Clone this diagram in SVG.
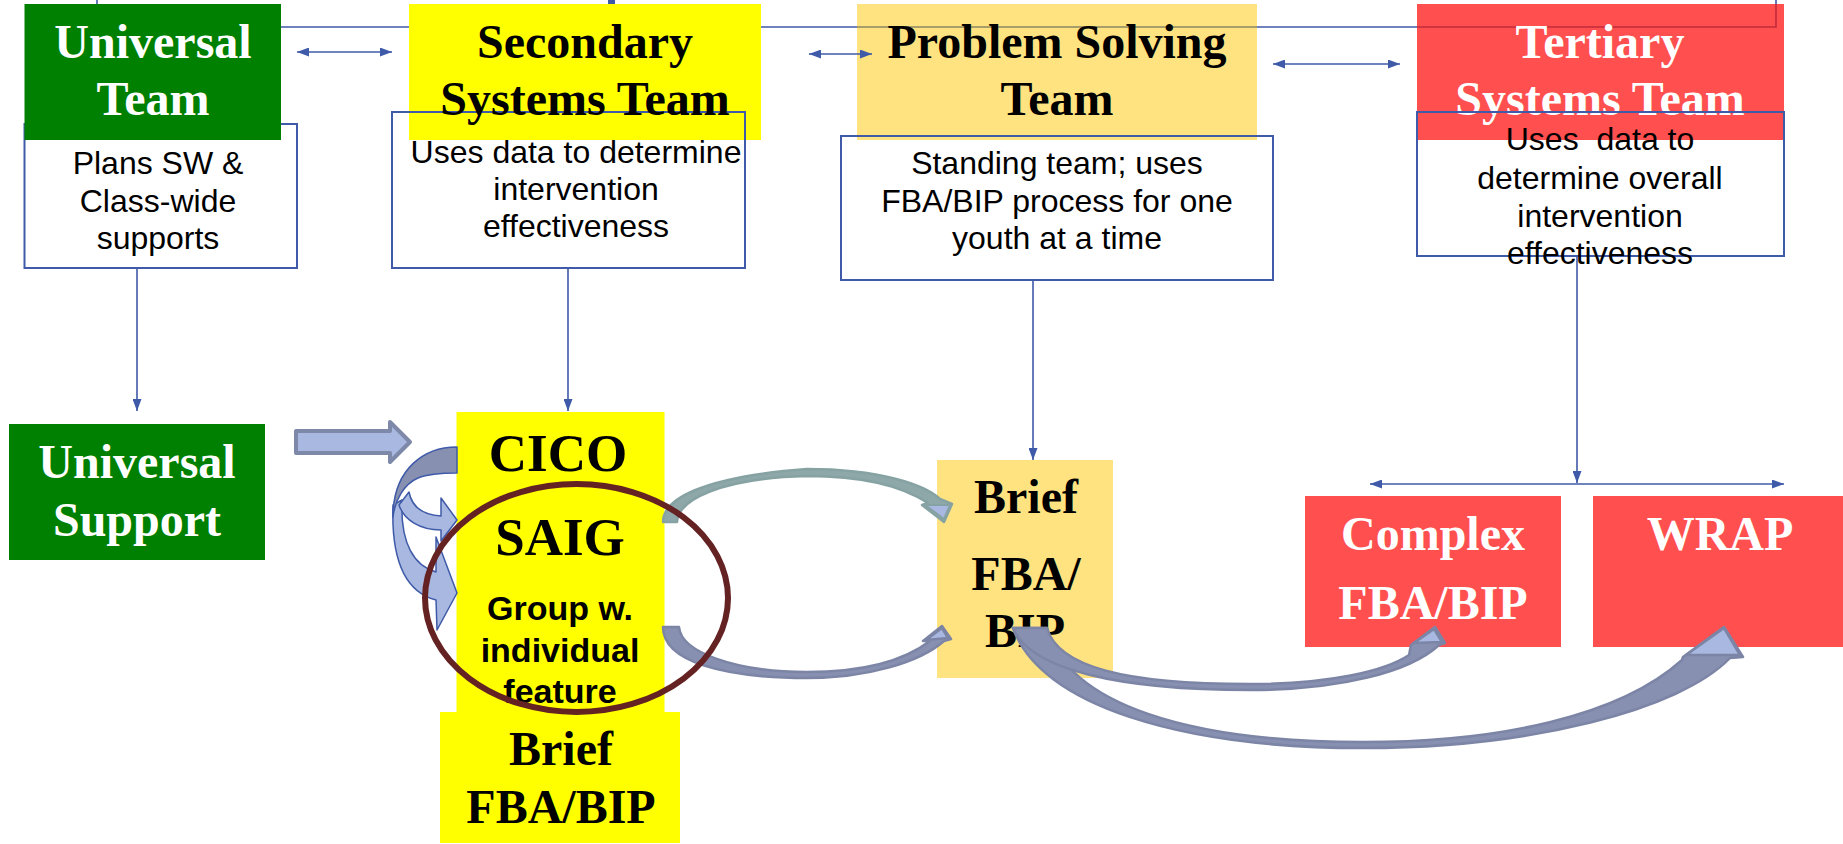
<svg xmlns="http://www.w3.org/2000/svg" width="1843" height="844" viewBox="0 0 1843 844">
<defs>
<style>
.title{font-family:"Liberation Serif","Times New Roman",serif;font-weight:bold;font-size:48px;text-anchor:middle}
.big{font-size:53px}
.desc{font-family:"Liberation Sans",Arial,sans-serif;font-size:32px;text-anchor:middle;fill:#000;white-space:pre}
.grp{font-family:"Liberation Sans",Arial,sans-serif;font-weight:bold;font-size:34px;text-anchor:middle;fill:#000}
.w{fill:#fff}
.k{fill:#000}
.dbox{fill:none;stroke:#3F5AA8;stroke-width:2}
.ln{fill:none;stroke:#3F5AA8;stroke-width:1.6}
.band{stroke:#7C85A5;stroke-width:2.5;stroke-linejoin:round;fill:#8890B2}
.teal{stroke:#86A2A3;stroke-width:2.5;stroke-linejoin:round;fill:#8EA8A9}
.head{fill:#A9B8E0;stroke:#7C85A5;stroke-width:2.5;stroke-linejoin:round}
.curl{stroke:#3F5AA8;stroke-width:1.5;stroke-linejoin:round}
</style>
<marker id="ah" viewBox="0 0 12 9" refX="12" refY="4.5" markerWidth="12" markerHeight="9" markerUnits="userSpaceOnUse" orient="auto-start-reverse">
<path d="M0,0 L12,4.5 L0,9 z" fill="#3F5AA8"/>
</marker>
</defs>
<rect width="1843" height="844" fill="#fff"/>

<g id="connectors-back">
<path class="ln" d="M97,0 V27 H1776 V0"/>
<rect x="608" y="0" width="7" height="5" fill="#3F5AA8"/>
</g>

<g id="universal-team">
<rect x="24.5" y="124" width="272.5" height="144" fill="#fff" stroke="#3F5AA8" stroke-width="2"/>
<text class="desc" x="158" y="174">Plans SW &amp;</text>
<text class="desc" x="158" y="211.5">Class-wide</text>
<text class="desc" x="158" y="249">supports</text>
<rect x="24.5" y="4" width="256.5" height="136" fill="#008000"/>
<text class="title w" x="153" y="58">Universal</text>
<text class="title w" x="153" y="115">Team</text>
</g>

<g id="secondary-team">
<rect x="409" y="4" width="352" height="136" fill="#FFFF00"/>
<rect class="dbox" x="392" y="112" width="353" height="156"/>
<text class="title k" x="585" y="58">Secondary</text>
<text class="title k" x="585" y="115">Systems Team</text>
<text class="desc" x="576" y="163">Uses data to determine</text>
<text class="desc" x="576" y="200">intervention</text>
<text class="desc" x="576" y="237">effectiveness</text>
</g>

<g id="problem-solving-team">
<rect x="857" y="4" width="400" height="136" fill="#FFE380"/>
<line x1="857" y1="27" x2="1257" y2="27" stroke="#8C8762" stroke-width="1.6"/>
<rect class="dbox" x="841" y="136" width="432" height="144"/>
<text class="title k" x="1057" y="58">Problem Solving</text>
<text class="title k" x="1057" y="115">Team</text>
<text class="desc" x="1057" y="174">Standing team; uses</text>
<text class="desc" x="1057" y="212">FBA/BIP process for one</text>
<text class="desc" x="1057" y="249">youth at a time</text>
</g>

<g id="tertiary-team">
<rect x="1417" y="4" width="367" height="136" fill="#FF4F4F"/>
<path d="M1417,27 H1776 V4" fill="none" stroke="#C22B3B" stroke-width="1.6"/>
<text class="title w" x="1600" y="58">Tertiary</text>
<text class="title w" x="1600" y="115">Systems Team</text>
<rect class="dbox" x="1417" y="112" width="367" height="144"/>
<text class="desc" x="1600" y="150">Uses  data to</text>
<text class="desc" x="1600" y="188.5">determine overall</text>
<text class="desc" x="1600" y="226.5">intervention</text>
<text class="desc" x="1600" y="264">effectiveness</text>
</g>

<g id="universal-support">
<rect x="9" y="424" width="256" height="136" fill="#008000"/>
<text class="title w" x="137" y="478">Universal</text>
<text class="title w" x="137" y="536">Support</text>
</g>

<g id="secondary-supports">
<rect x="456.5" y="412" width="208" height="300" fill="#FFFF00"/>
<text class="title big k" x="558" y="471">CICO</text>
<text class="title big k" x="560" y="555">SAIG</text>
<text class="grp" x="560" y="620">Group w.</text>
<text class="grp" x="560" y="662">individual</text>
<text class="grp" x="560" y="703">feature</text>
</g>

<g id="secondary-brief-fba">
<rect x="440" y="712" width="240" height="131" fill="#FFFF00"/>
<text class="title k" x="561" y="765">Brief</text>
<text class="title k" x="561" y="823">FBA/BIP</text>
</g>

<g id="brief-fba-bip">
<rect x="937" y="460" width="176" height="218" fill="#FFE380"/>
<text class="title k" x="1026" y="513">Brief</text>
<text class="title k" x="1026" y="590">FBA/</text>
<text class="title k" x="1025" y="647">BIP</text>
</g>

<g id="complex-fba-bip">
<rect x="1305" y="496" width="256" height="151" fill="#FF4F4F"/>
<text class="title w" x="1433" y="550">Complex</text>
<text class="title w" x="1433" y="619">FBA/BIP</text>
</g>

<g id="wrap">
<rect x="1593" y="496" width="250" height="151" fill="#FF4F4F"/>
<text class="title w" x="1720" y="550">WRAP</text>
</g>

<g id="connectors">
<line class="ln" x1="297" y1="52" x2="392" y2="52" marker-start="url(#ah)" marker-end="url(#ah)"/>
<line class="ln" x1="809" y1="54" x2="872" y2="54" marker-start="url(#ah)" marker-end="url(#ah)"/>
<line class="ln" x1="1273" y1="64" x2="1400" y2="64" marker-start="url(#ah)" marker-end="url(#ah)"/>
<line class="ln" x1="137" y1="268" x2="137" y2="411" marker-end="url(#ah)"/>
<line class="ln" x1="568" y1="268" x2="568" y2="411" marker-end="url(#ah)"/>
<line class="ln" x1="1033" y1="280" x2="1033" y2="460" marker-end="url(#ah)"/>
<line class="ln" x1="1577" y1="256" x2="1577" y2="483" marker-end="url(#ah)"/>
<line class="ln" x1="1370" y1="484" x2="1784" y2="484" marker-start="url(#ah)" marker-end="url(#ah)"/>

<path d="M296,431 L390,431 L390,422 L410,442 L390,462 L390,453 L296,453 Z" fill="#A9B8E0" stroke="#7E88A8" stroke-width="4" stroke-linejoin="round"/>

<path class="curl" fill="#A9B8E0" d="M393,505 C391,560 405,592 436,600 L437,630 L457,593 L436,537 L436,572 C415,566 400,545 402,500 Z"/>
<path class="curl" fill="#A9B8E0" d="M409,492 C412,508 425,515 441,516 L441,498 L457,520 L441,541 L441,530 C420,530 404,520 399,505 Z"/>
<path class="curl" fill="#8790B0" d="M457,447 C425,447 393,468 393,517 C395,500 404,484 418,478 C428,474 440,473 457,473 Z"/>

<path class="teal" d="M663,522 C663,500 700,477 807,469 C880,469 925,485 940,499 L952,504 L944,522 L922,505 L928,503 C905,488 870,476 807,476 C720,478 678,500 677,522 Z"/>
<path class="band" d="M663,627 C663,662 725,678 807,678 C868,678 920,662 944,641 L951,639 L942,626 L923,641 L930,641 C905,660 865,672 807,672 C735,672 681,652 679,627 Z"/>
<path class="band" d="M1013,628 L1047,628 C1068,705 1190,742 1363,742 C1500,742 1620,716 1682,660 L1683,657 L1724,627 L1743,657 L1730,658 C1680,710 1530,748 1363,748 C1180,748 1040,705 1013,628 Z"/>
<path class="band" d="M1013,628 L1047,628 C1058,667 1125,684 1250,684 C1330,684 1385,671 1409,655 L1411,645 L1435,627 L1445,643 L1439,645 C1410,672 1340,690 1250,690 C1120,690 1030,670 1013,628 Z"/>
<path class="head" d="M1686,655 L1724,628 L1740,655 Z"/>
<path class="head" d="M1414,643 L1434,629 L1442,642 Z"/>
<path class="head" d="M926,640 L942,628 L948,638 Z"/>
<path d="M925,505 L950,505 L944,519 Z" fill="#A9B8E0" stroke="#86A2A3" stroke-width="2" stroke-linejoin="round"/>
</g>

<g id="highlight-circle">
<ellipse cx="576.5" cy="598" rx="151.5" ry="114" fill="none" stroke="#652222" stroke-width="6"/>
</g>
</svg>
